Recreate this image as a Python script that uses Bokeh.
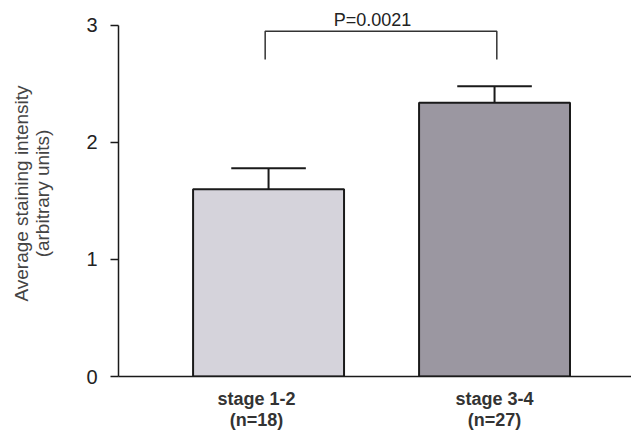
from bokeh.plotting import figure
from bokeh.models import FixedTicker, ColumnDataSource, Range1d
from bokeh.embed import file_html
from bokeh.resources import INLINE
from bokeh.core.properties import value

categories = ["stage 1-2\n(n=18)", "stage 3-4\n(n=27)"]
label_x = [0.947, 2.0]
means = [1.60, 2.34]
sems = [0.18, 0.14]
colors = ["#d5d3db", "#9b97a1"]
p_label = "P=0.0021"
bracket_y = 2.95
bracket_leg_bottom = 2.71

xs = [1, 2]
p = figure(width=631, height=432, output_backend="svg", toolbar_location=None,
           x_range=Range1d(0.336, 2.606), y_range=Range1d(0, 3.128),
           min_border_left=118, min_border_right=0, min_border_top=10, min_border_bottom=56)
p.outline_line_color = None
p.grid.visible = False
p.background_fill_color = "white"

src = ColumnDataSource(dict(x=xs, top=means, color=colors,
                            err=[m + s for m, s in zip(means, sems)]))
p.vbar(x="x", top="top", bottom=0, width=0.668, fill_color="color",
       line_color="#1a1a1a", line_width=2, source=src)
p.segment(x0="x", y0="top", x1="x", y1="err", line_color="#1a1a1a", line_width=2, source=src)
p.segment(x0=[x - 0.165 for x in xs], y0=src.data["err"], x1=[x + 0.165 for x in xs],
          y1=src.data["err"], line_color="#1a1a1a", line_width=2)

# significance bracket
bx0, bx1 = 0.985, 2.01
p.line(x=[bx0, bx0, bx1, bx1], y=[bracket_leg_bottom, bracket_y, bracket_y, bracket_leg_bottom],
       line_color="#333333", line_width=1.5)
p.text(x=[1.46], y=[bracket_y + 0.01], text=[p_label], text_align="center",
       text_baseline="bottom", text_font=value("Liberation Sans"), text_font_size="18px",
       text_color="#222222")

p.xaxis.ticker = FixedTicker(ticks=label_x)
p.xaxis.major_label_overrides = {x: c for x, c in zip(label_x, categories)}
p.xaxis.major_tick_line_color = None
p.xaxis.minor_tick_line_color = None
p.xaxis.axis_line_color = "#1a1a1a"
p.xaxis.axis_line_width = 1.5
p.xaxis.major_label_text_font = "Liberation Sans"
p.xaxis.major_label_text_font_size = "18px"
p.xaxis.major_label_text_font_style = "bold"
p.xaxis.major_label_text_line_height = 1.05
p.xaxis.major_label_text_color = "#333333"
p.xaxis.major_label_standoff = 6

p.yaxis.ticker = FixedTicker(ticks=[0, 1, 2, 3])
p.yaxis.bounds = (0, 3)
p.yaxis.minor_tick_line_color = None
p.yaxis.axis_line_color = "#1a1a1a"
p.yaxis.axis_line_width = 1.5
p.yaxis.major_tick_line_color = "#1a1a1a"
p.yaxis.major_tick_line_width = 1.5
p.yaxis.major_tick_in = 0
p.yaxis.major_tick_out = 8
p.yaxis.major_label_text_font = "Liberation Sans"
p.yaxis.major_label_text_font_size = "20px"
p.yaxis.major_label_text_color = "#222222"
p.yaxis.major_label_standoff = 13
p.yaxis.axis_label = "Average staining intensity\n(arbitrary units)"
p.yaxis.axis_label_text_font = "Liberation Sans"
p.yaxis.axis_label_text_font_style = "normal"
p.yaxis.axis_label_text_font_size = "19px"
p.yaxis.axis_label_text_line_height = 1.0
p.yaxis.axis_label_text_color = "#444444"
p.yaxis.axis_label_standoff = 30

open("out.html", "w").write(file_html(p, INLINE))
